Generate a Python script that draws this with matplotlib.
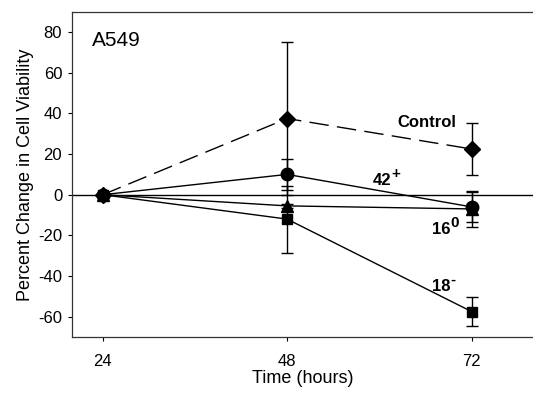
import matplotlib.pyplot as plt
import numpy as np

plt.rcParams['font.family'] = ['Liberation Sans', 'DejaVu Sans']
plt.rcParams['axes.unicode_minus'] = False

hours = [24, 48, 72]

control = [0, 37.5, 22.5]
control_err = [0, 37.5, 13]
s42 = [0, 10, -6]
s42_err = [0, 7.5, 7.5]
s16 = [0, -5.5, -7]
s16_err = [0, 1, 9]
s18 = [0, -12, -57.5]
s18_err = [0, 16.5, 7.3]

# label text, superscript, position (data coords)
labels = [('Control', '', 66.2, 35.5),
          ('42', '+', 60.3, 7),
          ('16', '0', 68.0, -17),
          ('18', '-', 68.0, -45)]

fig = plt.figure(figsize=(5.33, 3.95), dpi=100)
ax = fig.add_axes([0.135, 0.147, 0.865, 0.823])

ax.axhline(0, color='black', lw=1, zorder=1)

ekw = dict(color='black', ecolor='black', elinewidth=1, capsize=4.5, capthick=1, lw=1)
ax.errorbar(hours, control, yerr=control_err, marker='D', ms=8, ls=(0, (14, 6)), **ekw)
ax.errorbar(hours, s42, yerr=s42_err, marker='o', ms=9, ls='-', **ekw)
ax.errorbar(hours, s16, yerr=s16_err, marker='^', ms=8, ls='-', **ekw)
ax.errorbar(hours, s18, yerr=s18_err, marker='s', ms=7.5, ls='-', **ekw)

ax.text(22.6, 76, 'A549', fontsize=15, va='center', ha='left')
for txt, sup, x, y in labels:
    t = ax.text(x, y, txt, fontsize=12, fontweight='bold', ha='center', va='center')
    if sup:
        ax.annotate(sup, xy=(1.03, 0.95), xycoords=t, fontsize=11, fontweight='bold',
                    ha='left', va='center')

ax.set_xlim(20, 80)
ax.set_ylim(-70, 90)
ax.set_xticks(hours)
ax.set_yticks(np.arange(-60, 81, 20))
ax.tick_params(direction='out', length=3, width=0.8, labelsize=12, pad=4)
ax.tick_params(axis='x', pad=9)
ax.spines['right'].set_visible(False)
for s in ['left', 'top', 'bottom']:
    ax.spines[s].set_linewidth(0.9)
    ax.spines[s].set_color('#333333')

ax.set_xlabel('Time (hours)', fontsize=13, labelpad=1)
ax.set_ylabel('Percent Change in Cell Viability', fontsize=13, labelpad=3)

fig.savefig('out.png', dpi=100)
